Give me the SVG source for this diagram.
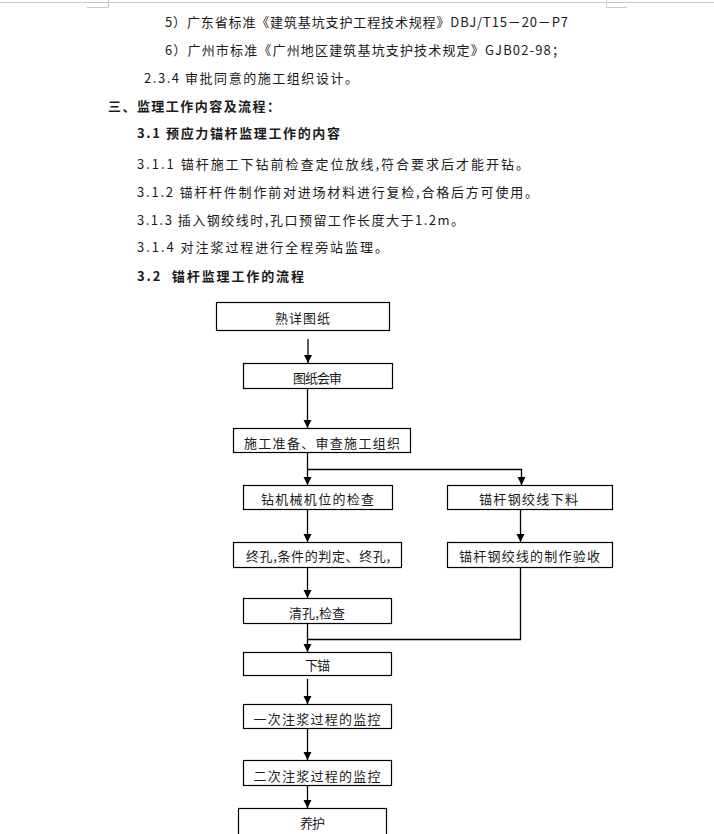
<svg xmlns="http://www.w3.org/2000/svg" width="714" height="834" viewBox="0 0 714 834">
<style>
text{font-family:"Noto Sans CJK SC","Noto Sans",sans-serif;font-size:13px;fill:#1a1a1a}
.b{font-weight:bold}
.c{text-anchor:middle}
.box{fill:#fff;stroke:#000;stroke-width:1.2}
.ln{fill:none;stroke:#000;stroke-width:1.3}
.ar{marker-end:url(#ah)}
.pg{fill:none;stroke:#c8c8c8;stroke-width:1}
</style>
<defs>
<marker id="ah" markerUnits="userSpaceOnUse" markerWidth="8" markerHeight="9" refX="8" refY="4" orient="auto" viewBox="0 0 8 8">
<path d="M0,0 L8,4 L0,8 z" fill="#000"/>
</marker>
</defs>
<rect x="0" y="0" width="714" height="834" fill="#fff"/>
<g id="page-marks">
<line class="pg" x1="0" y1="2.5" x2="714" y2="2.5"/>
<polyline class="pg" points="108.5,0 108.5,7.5 87,7.5"/>
<polyline class="pg" points="606.5,0 606.5,7.5 627,7.5"/>
</g>
<g id="body-text">
<text x="165" y="26.5" textLength="403" lengthAdjust="spacing">5）广东省标准《建筑基坑支护工程技术规程》DBJ/T15－20－P7</text>
<text x="165" y="55" textLength="400" lengthAdjust="spacing">6）广州市标准《广州地区建筑基坑支护技术规定》GJB02-98；</text>
<text x="144" y="83" textLength="214" lengthAdjust="spacing">2.3.4 审批同意的施工组织设计。</text>
<text class="b" x="108" y="111" textLength="172" lengthAdjust="spacing">三、监理工作内容及流程：</text>
<text class="b" x="137" y="138" textLength="203" lengthAdjust="spacing">3.1 预应力锚杆监理工作的内容</text>
<text x="137" y="168.5" textLength="392" lengthAdjust="spacing">3.1.1 锚杆施工下钻前检查定位放线,符合要求后才能开钻。</text>
<text x="137" y="197" textLength="401" lengthAdjust="spacing">3.1.2 锚杆杆件制作前对进场材料进行复检,合格后方可使用。</text>
<text x="137" y="225" textLength="327" lengthAdjust="spacing">3.1.3 插入钢绞线时,孔口预留工作长度大于1.2m。</text>
<text x="137" y="252" textLength="251" lengthAdjust="spacing">3.1.4 对注浆过程进行全程旁站监理。</text>
<text class="b" x="137" y="281" textLength="167" lengthAdjust="spacing">3.2&#160;&#160;锚杆监理工作的流程</text>
</g>
<g id="connectors">
<line class="ln ar" x1="308" y1="339" x2="308" y2="363"/>
<line class="ln ar" x1="307.5" y1="388" x2="307.5" y2="428"/>
<line class="ln" x1="307.5" y1="452" x2="307.5" y2="469.5"/>
<line class="ln" x1="307.5" y1="469.5" x2="522" y2="469.5"/>
<line class="ln ar" x1="307.5" y1="469" x2="307.5" y2="485"/>
<line class="ln ar" x1="521.5" y1="469" x2="521.5" y2="485"/>
<line class="ln ar" x1="307.5" y1="509" x2="307.5" y2="542"/>
<line class="ln ar" x1="520.5" y1="509" x2="520.5" y2="542"/>
<line class="ln ar" x1="307.5" y1="567" x2="307.5" y2="598"/>
<polyline class="ln" points="520.5,567 520.5,639.5 307.5,639.5"/>
<line class="ln ar" x1="307.5" y1="623" x2="307.5" y2="652"/>
<line class="ln ar" x1="307.5" y1="679" x2="307.5" y2="704"/>
<line class="ln ar" x1="307.5" y1="728" x2="307.5" y2="760"/>
<line class="ln ar" x1="307.5" y1="785" x2="307.5" y2="808"/>
<line class="ln" x1="307.5" y1="832" x2="307.5" y2="834"/>
</g>
<g id="n1"><rect class="box" x="216.5" y="302.5" width="173" height="28"/><text class="c" x="302.5" y="323" textLength="55" lengthAdjust="spacing">熟详图纸</text></g>
<g id="n2"><rect class="box" x="243.5" y="363.5" width="149" height="25"/><text class="c" x="317.5" y="383" textLength="49" lengthAdjust="spacing">图纸会审</text></g>
<g id="n3"><rect class="box" x="233.5" y="428.5" width="177" height="24"/><text class="c" x="322" y="448" textLength="156" lengthAdjust="spacing">施工准备、审查施工组织</text></g>
<g id="n4"><rect class="box" x="243.5" y="485.5" width="149" height="24"/><text class="c" x="317.5" y="504" textLength="113" lengthAdjust="spacing">钻机械机位的检查</text></g>
<g id="n5"><rect class="box" x="447.5" y="485.5" width="165" height="24"/><text class="c" x="528.5" y="504" textLength="99" lengthAdjust="spacing">锚杆钢绞线下料</text></g>
<g id="n6"><rect class="box" x="233.5" y="542.5" width="168" height="25"/><text class="c" x="318" y="561" textLength="144" lengthAdjust="spacing">终孔,条件的判定、终孔,</text></g>
<g id="n7"><rect class="box" x="447.5" y="542.5" width="165" height="25"/><text class="c" x="529.5" y="561" textLength="141" lengthAdjust="spacing">锚杆钢绞线的制作验收</text></g>
<g id="n8"><rect class="box" x="243.5" y="598.5" width="148" height="25"/><text class="c" x="317" y="618" textLength="56" lengthAdjust="spacing">清孔,检查</text></g>
<g id="n9"><rect class="box" x="243.5" y="652.5" width="148" height="23"/><text class="c" x="317.5" y="670" textLength="25" lengthAdjust="spacing">下锚</text></g>
<g id="n10"><rect class="box" x="243.5" y="704.5" width="148" height="24"/><text class="c" x="317" y="724" textLength="127" lengthAdjust="spacing">一次注浆过程的监控</text></g>
<g id="n11"><rect class="box" x="243.5" y="760.5" width="148" height="25"/><text class="c" x="317" y="781" textLength="127" lengthAdjust="spacing">二次注浆过程的监控</text></g>
<g id="n12"><rect class="box" x="238.5" y="808.5" width="148" height="40"/><text class="c" x="312.5" y="828" textLength="25" lengthAdjust="spacing">养护</text></g>
</svg>
